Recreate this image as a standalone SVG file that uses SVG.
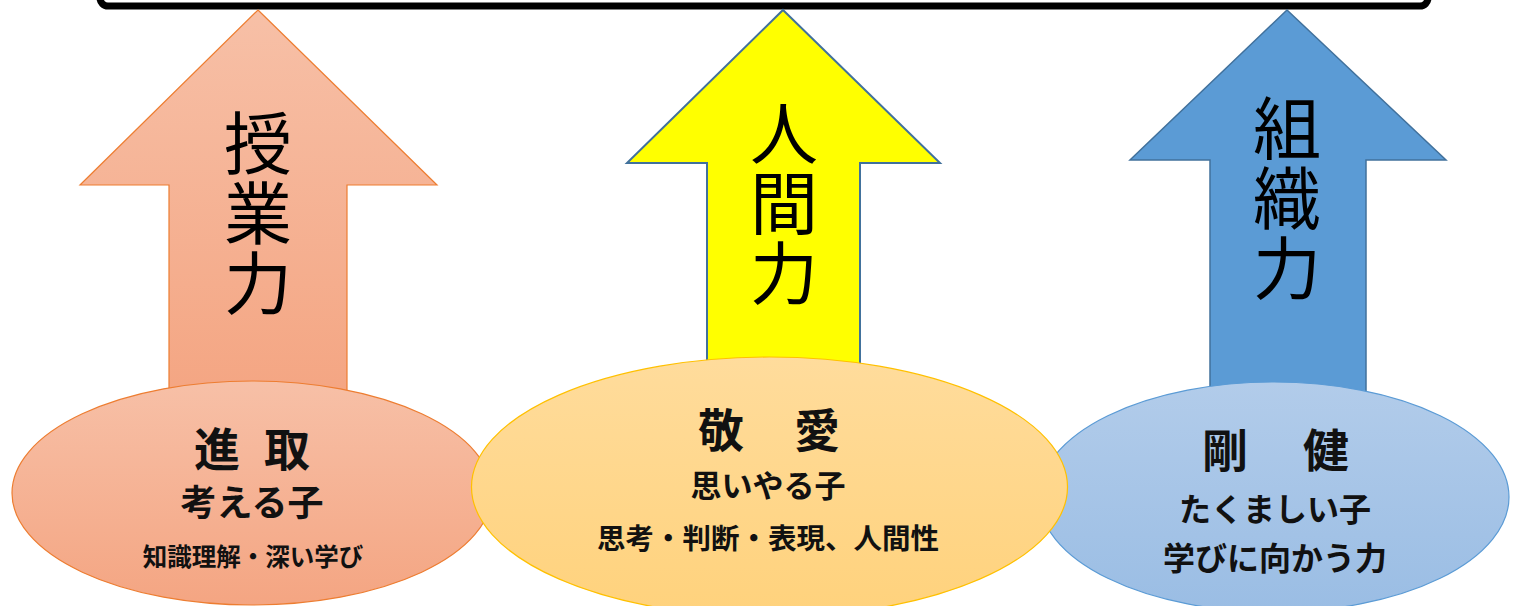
<svg xmlns="http://www.w3.org/2000/svg" width="1513" height="606" viewBox="0 0 1513 606">
<defs>
<linearGradient id="gOrange" x1="0" y1="0" x2="0" y2="1">
<stop offset="0" stop-color="#F7C0A7"/>
<stop offset="1" stop-color="#F4A582"/>
</linearGradient>
<linearGradient id="gYellowE" x1="0" y1="0" x2="0" y2="1">
<stop offset="0" stop-color="#FFDC9C"/>
<stop offset="1" stop-color="#FFD27C"/>
</linearGradient>
<linearGradient id="gBlueE" x1="0" y1="0" x2="0" y2="1">
<stop offset="0" stop-color="#B2CCEA"/>
<stop offset="1" stop-color="#9ABDE4"/>
</linearGradient>
</defs>
<style>
.big{font-family:"Noto Sans CJK JP","Noto Sans CJK SC",sans-serif;font-size:68px;fill:#000;writing-mode:vertical-rl;letter-spacing:2px}
.t{font-family:"Noto Sans CJK JP","Noto Sans CJK SC",sans-serif;font-weight:bold;fill:#111;text-anchor:middle}
</style>
<rect fill="#fff" width="1513" height="606"/>
<g id="top-bar">
<rect x="100" y="-40" width="1328" height="46" rx="8" fill="#fff" stroke="#000" stroke-width="7"/>
</g>
<g id="arrow-jugyo">
<polygon points="258,10 437,185 347,185 347,400 169,400 169,185 80,185" fill="url(#gOrange)" stroke="#ED7D31" stroke-width="1.2"/>
<text class="big" x="258" y="109">授業力</text>
</g>
<g id="arrow-ningen">
<polygon points="783,10 940,163 860,163 860,375 707,375 707,163 627,163" fill="#FFFF00" stroke="#41719C" stroke-width="2"/>
<text class="big" x="784" y="99">人間力</text>
</g>
<g id="arrow-soshiki">
<polygon points="1287,10 1446,160 1366,160 1366,400 1210,400 1210,160 1130,160" fill="#5B9BD5" stroke="#41719C" stroke-width="1.5"/>
<text class="big" x="1287" y="94">組織力</text>
</g>
<g id="connectors"></g>
<g id="ellipse-shinshu">
<ellipse cx="252" cy="493" rx="240" ry="112" fill="url(#gOrange)" stroke="#ED7D31" stroke-width="1.2"/>
<text class="t" font-size="46" x="217 287" y="466">進取</text>
<text class="t" font-size="36" x="252" y="516">考える子</text>
<text class="t" font-size="24.5" x="253" y="566">知識理解・深い学び</text>
</g>
<g id="ellipse-goken">
<ellipse cx="1274" cy="497" rx="235" ry="115" fill="url(#gBlueE)" stroke="#5B9BD5" stroke-width="1.2"/>
<text class="t" font-size="46" x="1225 1326" y="467">剛健</text>
<text class="t" font-size="32" x="1275" y="521">たくましい子</text>
<text class="t" font-size="32" x="1275" y="570">学びに向かう力</text>
</g>
<g id="ellipse-keiai">
<ellipse cx="769.5" cy="487" rx="298" ry="130" fill="url(#gYellowE)" stroke="#FFC000" stroke-width="1.2"/>
<text class="t" font-size="46" x="721 817" y="447">敬愛</text>
<text class="t" font-size="31" x="768" y="497">思いやる子</text>
<text class="t" font-size="28.5" x="768" y="549">思考・判断・表現、人間性</text>
</g>
</svg>
